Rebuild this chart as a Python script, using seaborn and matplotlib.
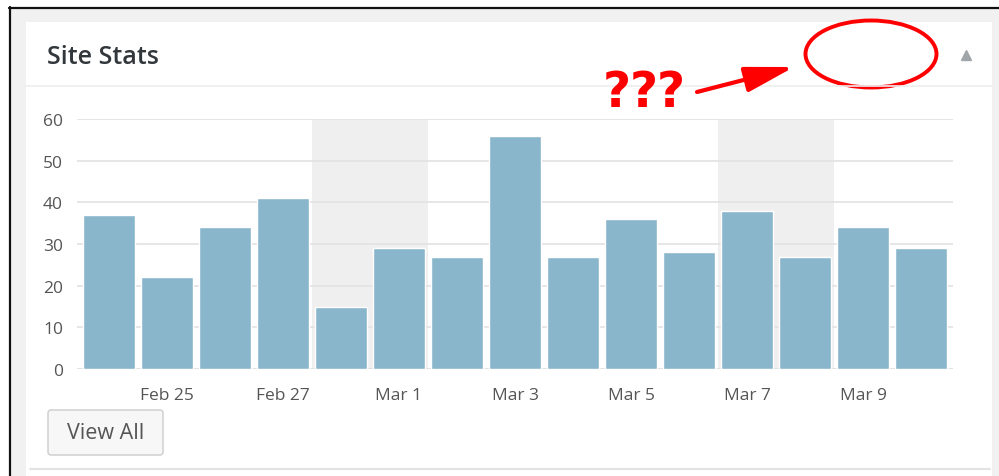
import matplotlib
matplotlib.use('Agg')
import matplotlib.pyplot as plt
import seaborn as sns
import pandas as pd
from matplotlib.patches import Rectangle, FancyBboxPatch, Ellipse

# ------------------------------------------------------------
# 데이터
# ------------------------------------------------------------
days = ['Feb 24', 'Feb 25', 'Feb 26', 'Feb 27', 'Feb 28', 'Mar 1', 'Mar 2',
        'Mar 3', 'Mar 4', 'Mar 5', 'Mar 6', 'Mar 7', 'Mar 8', 'Mar 9', 'Mar 10']
views = [37, 22, 34, 41, 15, 29, 27, 56, 27, 36, 28, 38, 27, 34, 29]
tick_days = ['Feb 25', 'Feb 27', 'Mar 1', 'Mar 3', 'Mar 5', 'Mar 7', 'Mar 9']
weekend_days = [('Feb 28', 'Mar 1'), ('Mar 7', 'Mar 8')]
y_ticks = [0, 10, 20, 30, 40, 50, 60]

df = pd.DataFrame({'day': days, 'views': views})

sns.set_theme(style='white')
plt.rcParams['font.family'] = ['Open Sans', 'DejaVu Sans']

W, H = 999, 477
fig = plt.figure(figsize=(W / 100, H / 100), dpi=100)
fig.patch.set_facecolor('white')

# ------------------------------------------------------------
# 배경 (스크린샷 틀)
# ------------------------------------------------------------
bg = fig.add_axes([0, 0, 1, 1])
bg.set_xlim(0, W)
bg.set_ylim(H, 0)
bg.axis('off')

bg.add_patch(Rectangle((10, 9), W - 10, H - 9, color='#f1f1f1', lw=0))
bg.add_patch(Rectangle((26, 23), 966, H - 23, color='white', lw=0))
bg.plot([9, W], [8.5, 8.5], color='#111111', lw=1.6)
bg.plot([9.5, 9.5], [8, H], color='#111111', lw=1.6)
bg.plot([26, 992], [87, 87], color='#eeeeee', lw=1.2)
bg.plot([30, 990], [470, 470], color='#e3e3e3', lw=1.5)

bg.text(47, 57, 'Site Stats', fontsize=18, fontweight='semibold',
        color='#32373c', va='center', ha='left')
bg.plot(966, 56, marker='^', markersize=7, color='#a0a5aa')

# View All 버튼
bg.add_patch(FancyBboxPatch((48, 411), 115, 45, boxstyle='round,pad=0,rounding_size=3',
                            fc='#f7f7f7', ec='#cccccc', lw=1))
bg.text(105.5, 434, 'View All', fontsize=15.5, color='#555555',
        ha='center', va='center')

# 빨간 표시 (??? + 화살표 + 원)
for qx in [617, 644, 671]:
    bg.text(qx, 93, '?', fontsize=35, fontweight='bold', family='DejaVu Sans',
            color='#ff0000', ha='center', va='center')
bg.annotate('', xy=(794, 68), xytext=(697, 93),
            arrowprops=dict(arrowstyle='-|>,head_length=2.5,head_width=0.65',
                            color='#ff0000', lw=3, shrinkA=0, shrinkB=0))
bg.add_patch(Ellipse((871, 55), 131, 67, fill=False, ec='#ff0000', lw=2.8))

# ------------------------------------------------------------
# 막대 그래프
# ------------------------------------------------------------
ax = fig.add_axes([77 / W, (H - 370) / H, 876 / W, 250 / H])
ax.set_facecolor('none')

for start, end in weekend_days:
    ax.axvspan(days.index(start) - 0.5, days.index(end) + 0.5,
               ymin=0, ymax=1, color='#efefef', lw=0, zorder=0)

for t in y_ticks:
    ax.axhline(t, color='#dddddd' if t == 0 else '#e2e2e2', lw=1.2, zorder=1)

sns.barplot(data=df, x='day', y='views', color='#8ab6cb', saturation=1,
            width=0.9, ax=ax, zorder=2)

ax.set_xlim(-0.55, len(days) - 0.45)
ax.set_ylim(0, 60)
ax.set_xticks([days.index(d) for d in tick_days])
ax.set_xticklabels(tick_days)
ax.set_yticks(y_ticks)
ax.tick_params(axis='both', length=0, labelsize=12.5, labelcolor='#555555')
ax.tick_params(axis='x', pad=13)
ax.tick_params(axis='y', pad=10)
ax.set_xlabel('')
ax.set_ylabel('')
sns.despine(ax=ax, left=True, bottom=True)

plt.savefig('out.png', dpi=100)
